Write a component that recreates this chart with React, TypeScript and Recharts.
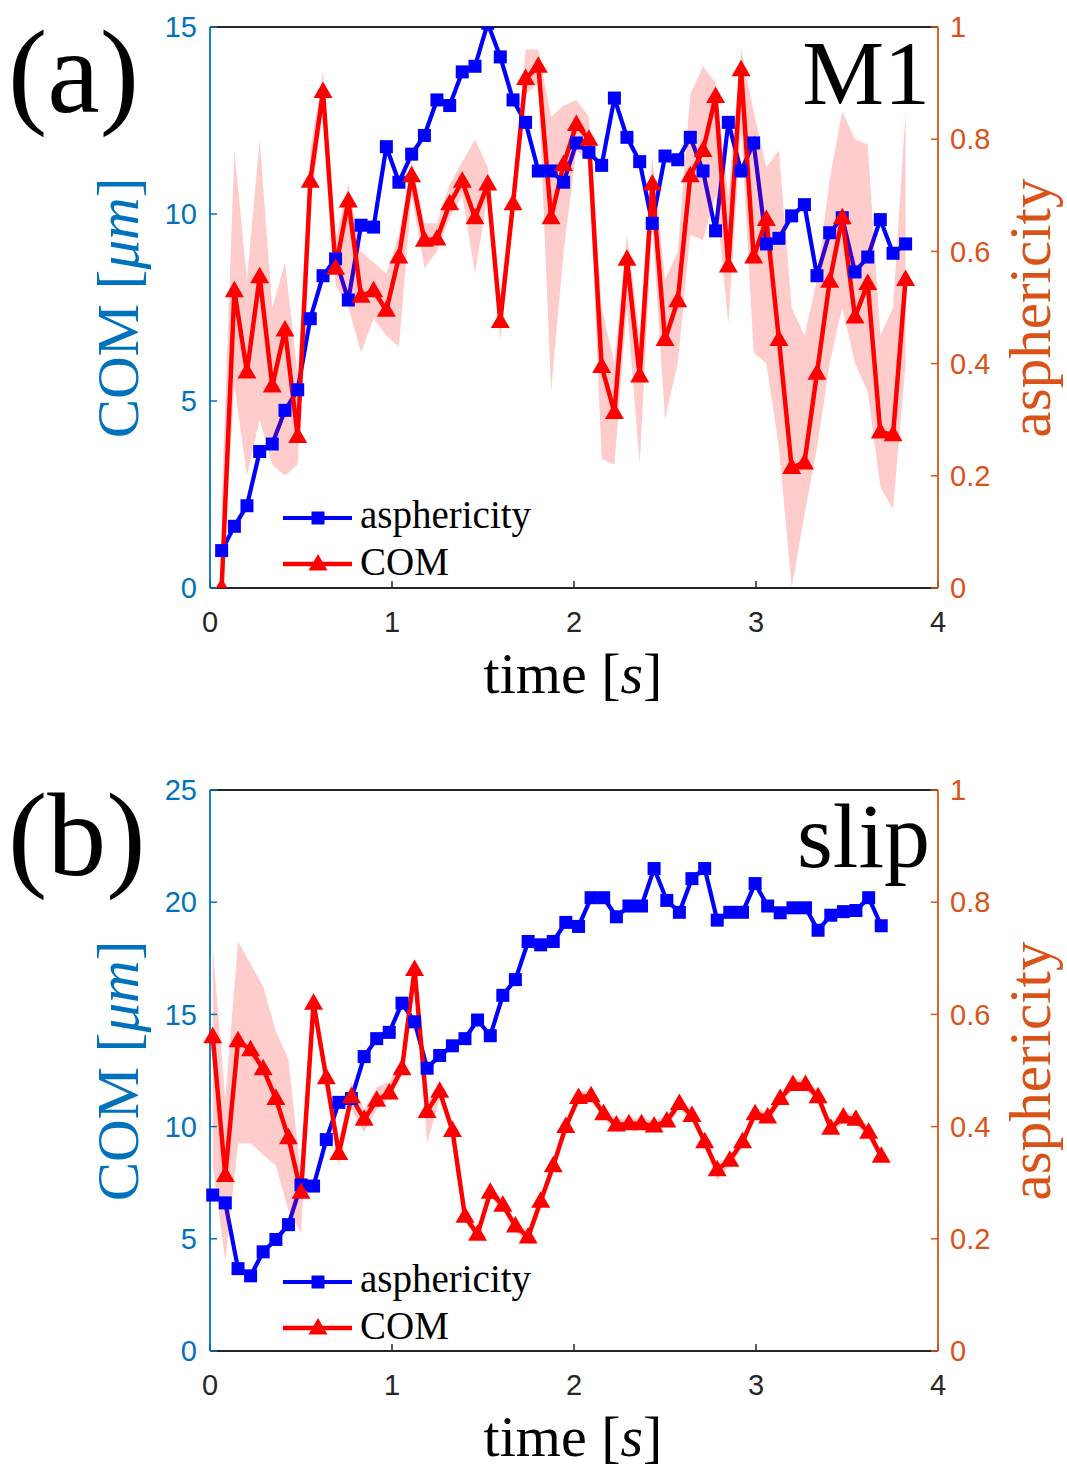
import { Area, ComposedChart, Line, XAxis, YAxis } from "recharts";

// panel (a) "M1"
const TIME_A = [
  0.064, 0.134, 0.203, 0.273, 0.342, 0.412, 0.482, 0.551, 0.621, 0.69,
  0.76, 0.83, 0.899, 0.969, 1.038, 1.108, 1.178, 1.247, 1.317, 1.386,
  1.456, 1.526, 1.595, 1.665, 1.734, 1.804, 1.874, 1.943, 2.013, 2.082,
  2.152, 2.222, 2.291, 2.361, 2.43, 2.5, 2.57, 2.639, 2.709, 2.778,
  2.848, 2.918, 2.987, 3.057, 3.126, 3.196, 3.266, 3.335, 3.405, 3.474,
  3.544, 3.614, 3.683, 3.753, 3.822,
];
const BLUE_A = [
  1.0, 1.65, 2.2, 3.65, 3.85, 4.75, 5.3, 7.2, 8.35, 8.8,
  7.7, 9.7, 9.65, 11.8, 10.85, 11.6, 12.1, 13.05, 12.9, 13.8,
  13.95, 15.1, 14.2, 13.05, 12.45, 11.15, 11.15, 10.85, 11.9, 11.65,
  11.3, 13.1, 12.05, 11.4, 9.75, 11.55, 11.45, 12.05, 11.15, 9.55,
  12.45, 11.15, 11.9, 9.2, 9.35, 9.95, 10.25, 8.35, 9.5, 9.9,
  8.45, 8.85, 9.85, 8.95, 9.2,
];
const RED_A = [
  0.0, 0.53, 0.385, 0.555, 0.36, 0.46, 0.27, 0.725, 0.885, 0.57,
  0.69, 0.52, 0.53, 0.495, 0.59, 0.735, 0.62, 0.622, 0.685, 0.725,
  0.66, 0.72, 0.475, 0.685, 0.908, 0.93, 0.66, 0.755, 0.826, 0.8,
  0.395, 0.313, 0.586, 0.378, 0.72, 0.443, 0.512, 0.735, 0.78, 0.876,
  0.574, 0.924, 0.59, 0.657, 0.443, 0.215, 0.223, 0.383, 0.547, 0.66,
  0.483, 0.543, 0.278, 0.273, 0.55,
];
const RED_A_LO = [
  0.0, 0.36, 0.2, 0.3, 0.22, 0.2, 0.22, 0.68, 0.85, 0.54,
  0.5, 0.42, 0.48, 0.45, 0.43, 0.7, 0.57, 0.6, 0.66, 0.7,
  0.56, 0.7, 0.44, 0.66, 0.88, 0.9, 0.35, 0.6, 0.78, 0.76,
  0.23, 0.22, 0.5, 0.22, 0.65, 0.3, 0.4, 0.63, 0.62, 0.7,
  0.47, 0.82, 0.42, 0.4, 0.25, 0.0, 0.13, 0.25, 0.4, 0.5,
  0.4, 0.35, 0.18, 0.14, 0.4,
];
const RED_A_HI = [
  0.15, 0.78, 0.55, 0.8, 0.5, 0.58, 0.38, 0.78, 0.92, 0.62,
  0.72, 0.6, 0.58, 0.56, 0.63, 0.76, 0.65, 0.65, 0.72, 0.76,
  0.8, 0.75, 0.52, 0.72, 0.96, 0.96, 0.84, 0.86, 0.87, 0.84,
  0.5, 0.4, 0.63, 0.45, 0.77, 0.55, 0.6, 0.88, 0.93, 0.9,
  0.7, 0.96, 0.85, 0.75, 0.78, 0.5, 0.45, 0.55, 0.73, 0.85,
  0.8, 0.79, 0.45, 0.5, 0.85,
];

// panel (b) "slip"
const TIME_B = [
  0.015, 0.084, 0.154, 0.223, 0.292, 0.362, 0.431, 0.5, 0.569, 0.639,
  0.708, 0.777, 0.847, 0.916, 0.985, 1.055, 1.124, 1.193, 1.262, 1.332,
  1.401, 1.47, 1.54, 1.609, 1.678, 1.748, 1.817, 1.886, 1.955, 2.025,
  2.094, 2.163, 2.233, 2.302, 2.371, 2.44, 2.51, 2.579, 2.648, 2.718,
  2.787, 2.856, 2.926, 2.995, 3.064, 3.133, 3.203, 3.272, 3.341, 3.411,
  3.48, 3.549, 3.619, 3.688,
];
const BLUE_B = [
  6.95, 6.6, 3.67, 3.35, 4.42, 4.97, 5.63, 7.4, 7.35, 9.42,
  11.08, 11.25, 13.12, 13.92, 14.2, 15.5, 14.67, 12.6, 13.17, 13.6,
  13.92, 14.75, 14.05, 15.85, 16.55, 18.25, 18.1, 18.25, 19.1, 18.92,
  20.2, 20.2, 19.35, 19.83, 19.83, 21.5, 20.08, 19.55, 21.05, 21.5,
  19.2, 19.55, 19.55, 20.83, 19.83, 19.53, 19.75, 19.75, 18.75, 19.42,
  19.58, 19.63, 20.2, 18.95,
];
const RED_B = [
  0.56, 0.313, 0.553, 0.537, 0.503, 0.45, 0.38, 0.283, 0.62, 0.487,
  0.352, 0.453, 0.413, 0.447, 0.46, 0.503, 0.68, 0.427, 0.463, 0.393,
  0.24, 0.208, 0.283, 0.26, 0.223, 0.203, 0.267, 0.33, 0.4, 0.452,
  0.455, 0.423, 0.403, 0.405, 0.405, 0.401, 0.41, 0.441, 0.42, 0.373,
  0.323, 0.34, 0.373, 0.423, 0.417, 0.45, 0.475, 0.475, 0.453, 0.397,
  0.417, 0.413, 0.39, 0.347,
];
const RED_B_LO = [
  0.33, 0.16, 0.37, 0.37, 0.35, 0.33, 0.25, 0.21, 0.6, 0.47,
  0.33, 0.43, 0.39, 0.43, 0.45, 0.49, 0.67, 0.37, 0.45, 0.383,
  0.23, 0.198, 0.273, 0.25, 0.213, 0.193, 0.257, 0.32, 0.39, 0.442,
  0.445, 0.413, 0.393, 0.395, 0.395, 0.391, 0.4, 0.431, 0.41, 0.363,
  0.305, 0.33, 0.363, 0.413, 0.407, 0.44, 0.465, 0.465, 0.443, 0.387,
  0.407, 0.403, 0.38, 0.337,
];
const RED_B_HI = [
  0.72, 0.45, 0.73, 0.69, 0.65, 0.57, 0.52, 0.31, 0.64, 0.5,
  0.37, 0.48, 0.43, 0.47, 0.48, 0.515, 0.69, 0.44, 0.475, 0.403,
  0.25, 0.218, 0.293, 0.27, 0.233, 0.213, 0.277, 0.34, 0.41, 0.462,
  0.465, 0.433, 0.413, 0.415, 0.415, 0.411, 0.42, 0.451, 0.43, 0.383,
  0.333, 0.35, 0.383, 0.433, 0.427, 0.46, 0.485, 0.485, 0.463, 0.407,
  0.427, 0.423, 0.4, 0.357,
];

const X_TICKS = [0, 1, 2, 3, 4];
const COM_TICKS_A = [0, 5, 10, 15];
const COM_TICKS_B = [0, 5, 10, 15, 20, 25];
const ASPH_TICKS = [0, 0.2, 0.4, 0.6, 0.8, 1];

const BLUE = "#0000ff";
const RED = "#ff0000";
const AX_BLUE = "#0072bd";
const AX_ORANGE = "#d95319";
const AX_DARK = "#262626";
const SANS = "'Liberation Sans', Arial, sans-serif";
const SERIF = "'Liberation Serif', 'Times New Roman', serif";

function buildRows(t: number[], blue: number[], red: number[], lo: number[], hi: number[]) {
  return t.map((tt, i) => ({ t: tt, blue: blue[i], red: red[i], band: [lo[i], hi[i]] }));
}

const rowsA = buildRows(TIME_A, BLUE_A, RED_A, RED_A_LO, RED_A_HI);
const rowsB = buildRows(TIME_B, BLUE_B, RED_B, RED_B_LO, RED_B_HI);

function SquareDot(props: any) {
  const { cx, cy, index } = props;
  if (cx == null || cy == null) return <g key={`s${index}`} />;
  return <rect key={`s${index}`} x={cx - 6.5} y={cy - 6.5} width={13} height={13} fill={BLUE} />;
}

function TriangleDot(props: any) {
  const { cx, cy, index } = props;
  if (cx == null || cy == null) return <g key={`t${index}`} />;
  return (
    <polygon
      key={`t${index}`}
      points={`${cx},${cy - 10} ${cx - 9.5},${cy + 6.5} ${cx + 9.5},${cy + 6.5}`}
      fill={RED}
    />
  );
}

type PanelProps = { rows: any[]; comMax: number; comTicks: number[] };

function Panel({ rows, comMax, comTicks }: PanelProps) {
  return (
    <ComposedChart width={1067} height={700} data={rows} margin={{ top: 25, right: 69, bottom: 52, left: 150 }}>
      <XAxis
        xAxisId="top"
        orientation="top"
        type="number"
        dataKey="t"
        domain={[0, 4]}
        ticks={X_TICKS}
        interval={0}
        tick={false}
        tickSize={-7}
        height={2}
        axisLine={{ stroke: AX_DARK, strokeWidth: 1.8 }}
        tickLine={{ stroke: AX_DARK, strokeWidth: 1.5 }}
      />
      <XAxis
        type="number"
        dataKey="t"
        domain={[0, 4]}
        ticks={X_TICKS}
        interval={0}
        tickSize={-7}
        tickMargin={30}
        height={60}
        axisLine={{ stroke: AX_DARK, strokeWidth: 1.8 }}
        tickLine={{ stroke: AX_DARK, strokeWidth: 1.5 }}
        tick={{ fill: AX_DARK, fontSize: 29, fontFamily: SANS }}
      />
      <YAxis
        yAxisId="left"
        domain={[0, comMax]}
        ticks={comTicks}
        interval={0}
        allowDataOverflow
        width={60}
        tickSize={-7}
        tickMargin={20}
        axisLine={{ stroke: AX_BLUE, strokeWidth: 1.8 }}
        tickLine={{ stroke: AX_BLUE, strokeWidth: 1.5 }}
        tick={{ fill: AX_BLUE, fontSize: 29, fontFamily: SANS }}
      />
      <YAxis
        yAxisId="right"
        orientation="right"
        domain={[0, 1]}
        ticks={ASPH_TICKS}
        interval={0}
        allowDataOverflow
        width={60}
        tickSize={-7}
        tickMargin={19}
        tickFormatter={(v: number) => String(v)}
        axisLine={{ stroke: AX_ORANGE, strokeWidth: 1.8 }}
        tickLine={{ stroke: AX_ORANGE, strokeWidth: 1.5 }}
        tick={{ fill: AX_ORANGE, fontSize: 29, fontFamily: SANS }}
      />
      <Line
        yAxisId="left"
        dataKey="blue"
        type="linear"
        stroke={BLUE}
        strokeWidth={4.2}
        dot={SquareDot}
        activeDot={false}
        isAnimationActive={false}
        zIndex={400}
      />
      <Area
        yAxisId="right"
        dataKey="band"
        type="linear"
        stroke="none"
        fill={RED}
        fillOpacity={0.2}
        activeDot={false}
        isAnimationActive={false}
        zIndex={410}
      />
      <Line
        yAxisId="right"
        dataKey="red"
        type="linear"
        stroke={RED}
        strokeWidth={4.5}
        dot={TriangleDot}
        activeDot={false}
        isAnimationActive={false}
        zIndex={420}
      />
    </ComposedChart>
  );
}

function Legend({ y }: { y: number }) {
  return (
    <g>
      <line x1={283} x2={352} y1={y} y2={y} stroke={BLUE} strokeWidth={4.2} />
      <rect x={311.5} y={y - 6.5} width={13} height={13} fill={BLUE} />
      <text x={360} y={y + 10} fontSize={39} fontFamily={SERIF} fill="#000">asphericity</text>
      <line x1={283} x2={352} y1={y + 46} y2={y + 46} stroke={RED} strokeWidth={4.5} />
      <polygon points={`318,${y + 36} 308.5,${y + 52.5} 327.5,${y + 52.5}`} fill={RED} />
      <text x={360} y={y + 57} fontSize={39} fontFamily={SERIF} fill="#000">COM</text>
    </g>
  );
}

function Titles({ dy, tag, name }: { dy: number; tag: string; name: string }) {
  return (
    <g>
      <text x={8} y={112 + dy} fontSize={118} fontFamily={SERIF} fill="#000">{tag}</text>
      <text x={930} y={104 + dy} fontSize={92} fontFamily={SERIF} fill="#000" textAnchor="end">{name}</text>
      <text
        transform={`translate(138, ${308 + dy}) rotate(-90)`}
        textAnchor="middle"
        fontSize={59}
        fontFamily={SERIF}
        fill={AX_BLUE}
      >
        COM [<tspan fontStyle="italic">μm</tspan>]
      </text>
      <text
        transform={`translate(1050, ${308 + dy}) rotate(-90)`}
        textAnchor="middle"
        fontSize={59}
        fontFamily={SERIF}
        fill={AX_ORANGE}
      >
        asphericity
      </text>
      <text x={573} y={693 + dy} textAnchor="middle" fontSize={58} fontFamily={SERIF} fill="#000">
        time [<tspan fontStyle="italic">s</tspan>]
      </text>
    </g>
  );
}

export default function App() {
  return (
    <div style={{ position: "absolute", left: 0, top: 0, width: 1067, height: 1470, background: "#fff" }}>
      <div style={{ position: "absolute", left: 0, top: 0 }}>
        <Panel rows={rowsA} comMax={15} comTicks={COM_TICKS_A} />
      </div>
      <div style={{ position: "absolute", left: 0, top: 763 }}>
        <Panel rows={rowsB} comMax={25} comTicks={COM_TICKS_B} />
      </div>
      <svg
        width={1067}
        height={1470}
        style={{ position: "absolute", left: 0, top: 0, pointerEvents: "none" }}
      >
        <Titles dy={0} tag="(a)" name="M1" />
        <Titles dy={763} tag="(b)" name="slip" />
        <Legend y={518} />
        <Legend y={1282} />
      </svg>
    </div>
  );
}
